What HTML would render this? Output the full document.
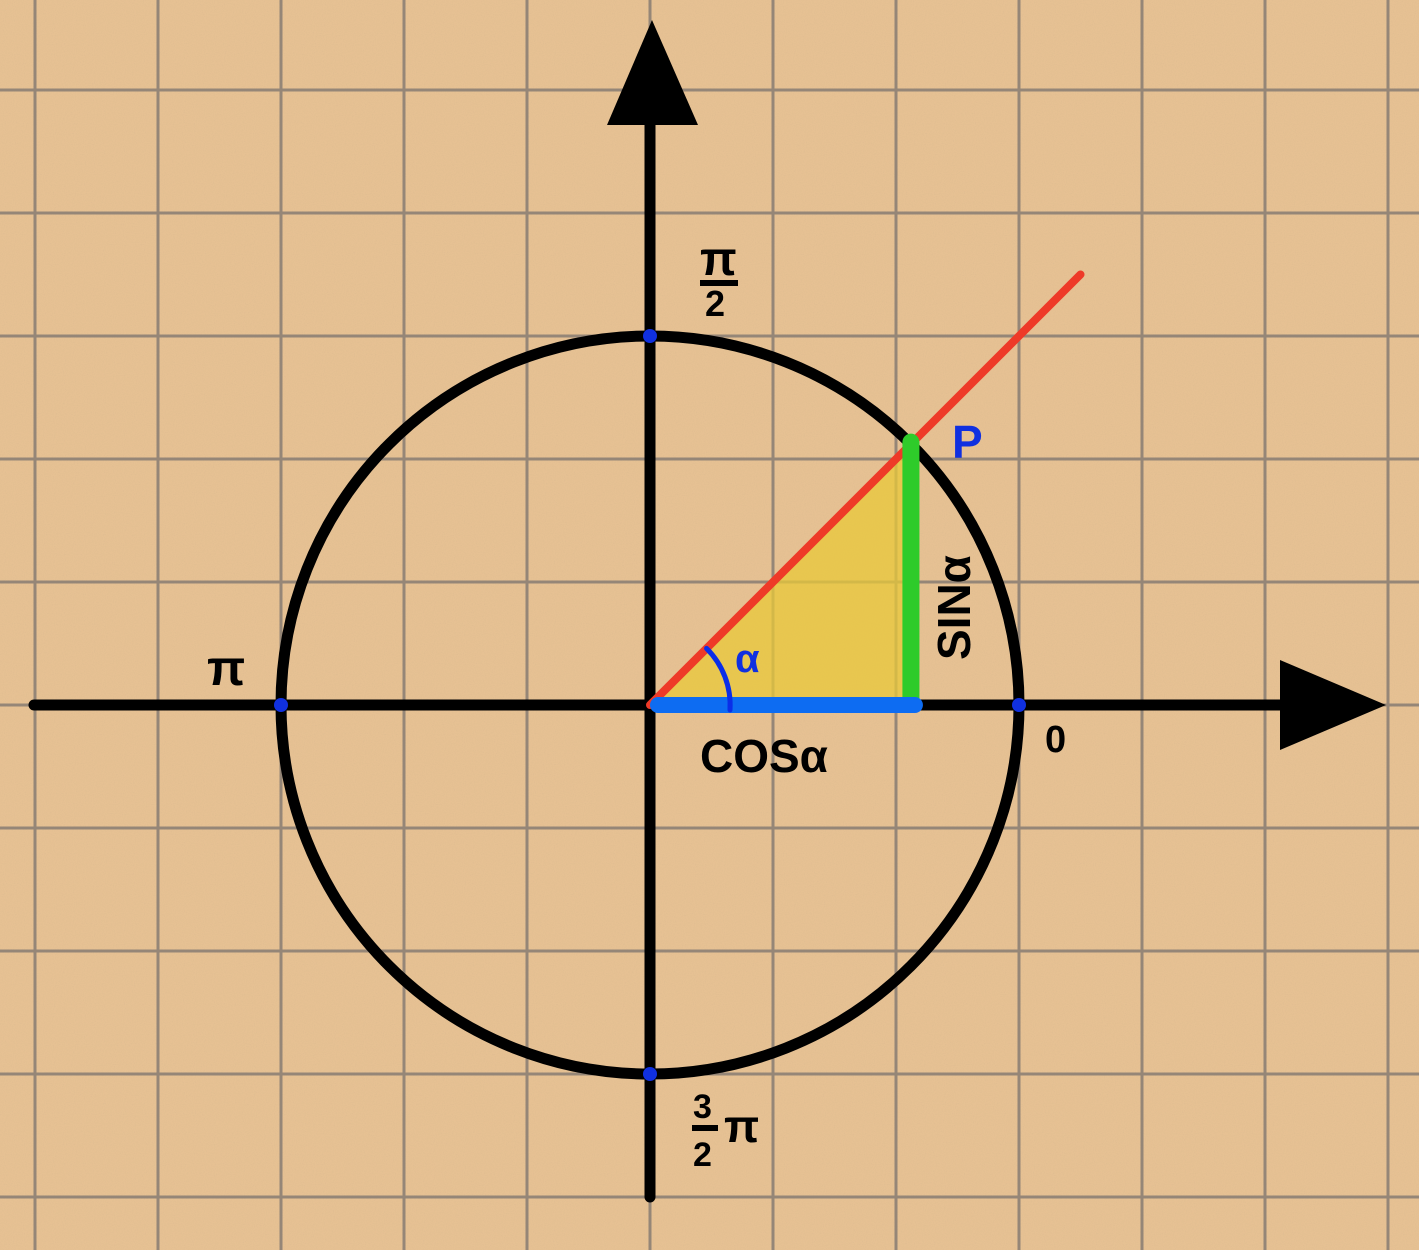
<!DOCTYPE html>
<html><head><meta charset="utf-8"><style>
html,body{margin:0;padding:0;background:#e6c193;}
svg{display:block;}
text{font-family:"Liberation Sans",sans-serif;font-weight:bold;}
</style></head><body>
<svg id="chart" width="1419" height="1250" viewBox="0 0 1419 1250" xmlns="http://www.w3.org/2000/svg">
<defs>
<filter id="noise" x="0" y="0" width="100%" height="100%">
<feTurbulence type="fractalNoise" baseFrequency="0.9" numOctaves="2" seed="4"/>
<feColorMatrix values="0 0 0 0 0.55  0 0 0 0 0.4  0 0 0 0 0.25  0 0 0 1.2 -0.55"/>
</filter>
</defs>
<rect width="1419" height="1250" fill="#e6c193"/>
<rect width="1419" height="1250" filter="url(#noise)" opacity="0.35"/>
<g id="grid"></g>
<g id="marks"></g>
</svg>
<script>
// data
const angleDeg = [45];
const radiusUnits = [1];
const axisPoints = [
  {name:'zero', angle:0},
  {name:'half-pi', angle:90},
  {name:'pi', angle:180},
  {name:'three-halves-pi', angle:270}
];
const rayLength = [1.65];

// layout
const cx = 650, cy = 705, R = 369, cell = 123;
const sx = u => cx + u*R;
const sy = u => cy - u*R;
const NS = 'http://www.w3.org/2000/svg';
function mk(tag, attrs, parent){
  const e = document.createElementNS(NS, tag);
  for (const k in attrs) e.setAttribute(k, attrs[k]);
  parent.appendChild(e); return e;
}
const grid = document.getElementById('grid');
for (let x = cx - 5*cell; x <= 1419; x += cell) {
  const l = mk('line', {x1:x, y1:0, x2:x, y2:1250, stroke:'#958677', 'stroke-width':3}, grid);
  
  
}
for (let y = cy - 5*cell; y <= 1250; y += cell) {
  const l = mk('line', {x1:0, y1:y, x2:1419, y2:y, stroke:'#958677', 'stroke-width':3}, grid);
  
  
}
const g = document.getElementById('marks');
const a = angleDeg[0]*Math.PI/180, r = radiusUnits[0];
const px = sx(r*Math.cos(a)), py = sy(r*Math.sin(a));

let e;
e = mk('polygon', {points:`${cx},${cy} ${px},${cy} ${px},${py}`, fill:'#e8c838', opacity:0.75}, g);



e = mk('line', {x1:cx, y1:1197, x2:cx, y2:110, stroke:'#000', 'stroke-width':11, 'stroke-linecap':'round'}, g);


e = mk('polygon', {points:`652,20 607,125 698,125`, fill:'#000'}, g);


e = mk('line', {x1:34, y1:cy, x2:1295, y2:cy, stroke:'#000', 'stroke-width':11, 'stroke-linecap':'round'}, g);


e = mk('polygon', {points:`1386,705 1280,660 1280,750`, fill:'#000'}, g);



e = mk('circle', {cx:cx, cy:cy, r:R*r, fill:'none', stroke:'#000', 'stroke-width':11}, g);



const L = rayLength[0];
e = mk('line', {x1:cx, y1:cy, x2:sx(L*Math.cos(a)), y2:sy(L*Math.sin(a)), stroke:'#ee3a28', 'stroke-width':8, 'stroke-linecap':'round'}, g);



e = mk('line', {x1:px, y1:cy-2, x2:px, y2:py-2, stroke:'#2ecb2a', 'stroke-width':17, 'stroke-linecap':'round'}, g);


e = mk('line', {x1:cx+8, y1:cy, x2:px+4, y2:cy, stroke:'#0d6cf2', 'stroke-width':16, 'stroke-linecap':'round'}, g);



// angle arc
const ar = 80;
e = mk('path', {d:`M ${cx+ar} ${cy+5} A ${ar} ${ar} 0 0 0 ${cx+ar*Math.cos(a)} ${cy-ar*Math.sin(a)}`, fill:'none', stroke:'#0a2ee8', 'stroke-width':5, 'stroke-linecap':'round'}, g);



axisPoints.forEach(p => {
  const t = p.angle*Math.PI/180;
  const d = mk('circle', {cx:sx(r*Math.cos(t)), cy:sy(r*Math.sin(t)), r:7, fill:'#1030e0'}, g);
  
  
});

function txt(s, x, y, size, fill, name, rot){
  const t = mk('text', {x:x, y:y, 'font-size':size, fill:fill}, g);
  if (rot) t.setAttribute('transform', `rotate(${rot} ${x} ${y})`);
  t.textContent = s;
  
  
  return t;
}
txt('P', 952, 458, 46, '#1030e0', 'label-p');
txt('α', 735, 672, 40, '#1030e0', 'label-alpha');
txt('COSα', 700, 772, 46, '#000', 'label-cos');
txt('SINα', 970, 660, 46, '#000', 'label-sin', -90);
txt('0', 1045, 752, 38, '#000', 'label-zero');
txt('π', 207, 685, 50, '#000', 'label-pi');
txt('π', 700, 275, 48, '#000', 'label-half-pi-num');
e = mk('line', {x1:700, y1:283, x2:738, y2:283, stroke:'#000', 'stroke-width':6}, g);


txt('2', 705, 316, 36, '#000', 'label-half-pi-den');
txt('3', 693, 1118, 34, '#000', 'label-3-2-pi-num');
e = mk('line', {x1:692, y1:1128, x2:718, y2:1128, stroke:'#000', 'stroke-width':6}, g);


txt('2', 693, 1166, 34, '#000', 'label-3-2-pi-den');
txt('π', 724, 1142, 46, '#000', 'label-3-2-pi-sym');
</script>
</body></html>
